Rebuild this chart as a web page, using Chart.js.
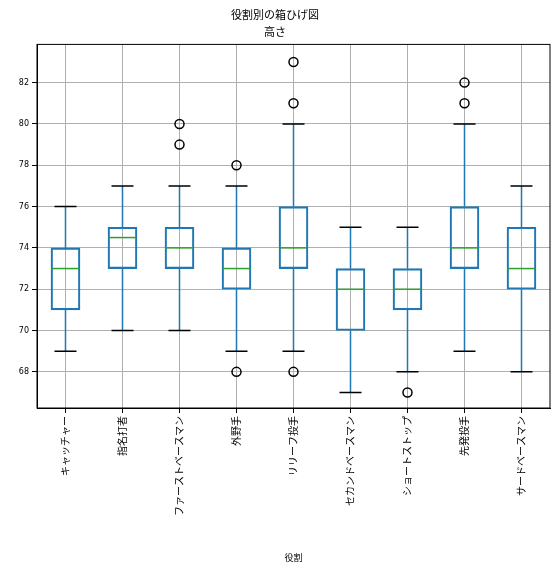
<!DOCTYPE html>
<html><head><meta charset="utf-8">
<script src="https://cdn.jsdelivr.net/npm/chart.js@4/dist/chart.umd.min.js"></script>
<style>html,body{margin:0;padding:0;background:#fff}#w{width:559px;height:573px}</style>
</head><body><div id="w"><canvas id="c"></canvas></div>
<script>
const categories = ["キャッチャー","指名打者","ファーストベースマン","外野手","リリーフ投手","セカンドベースマン","ショートストップ","先発投手","サードベースマン"];
const whiskerLow = [69,70,70,69,69,67,68,69,68];
const q1 = [71,73,73,72,73,70,71,73,72];
const median = [73,74.5,74,73,74,72,72,74,73];
const q3 = [74,75,75,74,76,73,73,76,75];
const whiskerHigh = [76,77,77,77,80,75,75,80,77];
const outliers = [[],[],[79,80],[68,78],[68,81,83],[],[67],[81,82],[]];
const yTicks = [68,70,72,74,76,78,80,82];

const outPts = [];
outliers.forEach((arr,i)=>arr.forEach(v=>outPts.push({x:categories[i],y:v})));

const boxPlugin = {
  id:'boxw',
  afterDatasetsDraw(chart){
    const ctx=chart.ctx, xs=chart.scales.x, ys=chart.scales.y, a=chart.chartArea;
    const cap=11, half=14;
    ctx.save();
    categories.forEach((c,i)=>{
      const x=xs.getPixelForValue(i);
      ctx.lineWidth=1.5; ctx.strokeStyle='#1f77b4';
      ctx.beginPath();
      ctx.moveTo(x,ys.getPixelForValue(q1[i]));ctx.lineTo(x,ys.getPixelForValue(whiskerLow[i]));
      ctx.moveTo(x,ys.getPixelForValue(q3[i]));ctx.lineTo(x,ys.getPixelForValue(whiskerHigh[i]));
      ctx.stroke();
      ctx.strokeStyle='#000';
      ctx.beginPath();
      [whiskerLow[i],whiskerHigh[i]].forEach(v=>{const y=ys.getPixelForValue(v);ctx.moveTo(x-cap,y);ctx.lineTo(x+cap,y);});
      ctx.stroke();
      ctx.strokeStyle='#2ca02c';
      const ym=ys.getPixelForValue(median[i]);
      ctx.beginPath();ctx.moveTo(x-half,ym);ctx.lineTo(x+half,ym);ctx.stroke();
    });
    ctx.strokeStyle='#000';ctx.lineWidth=1;
    ctx.strokeRect(a.left,a.top,a.right-a.left,a.bottom-a.top);
    ctx.restore();
  }
};

new Chart(document.getElementById('c'),{
  data:{labels:categories,datasets:[
    {type:'bar',data:categories.map((c,i)=>[q1[i],q3[i]]),backgroundColor:'rgba(0,0,0,0)',borderColor:'#1f77b4',borderWidth:1.5,borderSkipped:false,barThickness:29,order:2},
    {type:'scatter',data:outPts,pointStyle:'circle',pointRadius:4.5,borderColor:'#000',borderWidth:1.5,backgroundColor:'rgba(0,0,0,0)',order:1}
  ]},
  options:{
    responsive:true,maintainAspectRatio:false,animation:false,
    layout:{padding:{left:0,right:9,top:0,bottom:6}},
    plugins:{legend:{display:false},tooltip:{enabled:false},
      title:{display:true,text:'役割別の箱ひげ図',font:{size:11,family:'Noto Sans CJK JP',weight:'normal'},color:'#000',padding:{top:8,bottom:4}},
      subtitle:{display:true,text:'高さ',font:{size:11,family:'Noto Sans CJK JP'},color:'#000',padding:{bottom:6}}},
    scales:{
      x:{type:'category',offset:true,grid:{color:'#b0b0b0',offset:false,drawTicks:true,tickColor:'#000',tickLength:5},border:{color:'#000',width:1},
        afterFit(s){s.height=159;},
        ticks:{color:'#000',font:{size:10,family:'Noto Sans CJK JP'},maxRotation:90,minRotation:90,autoSkip:false},
        title:{display:true,text:'役割',font:{size:9,family:'Noto Sans CJK JP'},color:'#000'}},
      y:{min:66.25,max:83.85,grid:{color:'#b0b0b0',tickColor:'#000',tickLength:5},border:{color:'#000',width:1},
        afterFit(s){s.width=37;},
        afterBuildTicks(s){s.ticks=yTicks.map(v=>({value:v}));},
        ticks:{color:'#000',font:{size:8,family:'DejaVu Sans'}}}
    }
  },
  plugins:[boxPlugin]
});
</script></body></html>
